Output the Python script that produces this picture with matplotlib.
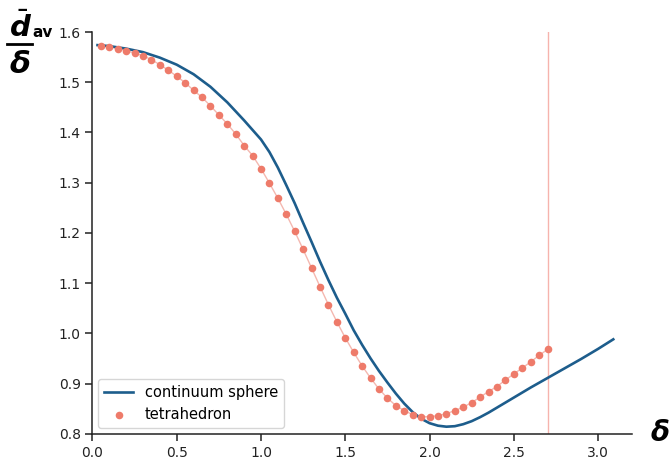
import matplotlib
matplotlib.use("Agg")
from matplotlib import pyplot as plt
from matplotlib.lines import Line2D

# continuum sphere: mean distance over delta
sphere_delta = [0.03, 0.1, 0.2, 0.3, 0.4, 0.5, 0.6, 0.7, 0.8, 0.9, 0.95,
                1.0, 1.05, 1.1, 1.15, 1.2, 1.25, 1.3, 1.35, 1.4, 1.45,
                1.5, 1.55, 1.6, 1.65, 1.7, 1.75, 1.8, 1.85, 1.9, 1.95,
                2.0, 2.05, 2.1, 2.15, 2.2, 2.25, 2.3, 2.35, 2.4, 2.5,
                2.6, 2.7, 2.8, 2.9, 3.0, 3.09]
sphere_ratio = [1.574, 1.572, 1.567, 1.560, 1.549, 1.535, 1.516, 1.491,
                1.460, 1.424, 1.405, 1.386, 1.361, 1.330, 1.295, 1.259,
                1.220, 1.182, 1.143, 1.106, 1.071, 1.039, 1.006, 0.977,
                0.950, 0.925, 0.902, 0.880, 0.860, 0.843, 0.830, 0.821,
                0.816, 0.814, 0.815, 0.819, 0.825, 0.833, 0.842, 0.852,
                0.872, 0.892, 0.911, 0.930, 0.949, 0.969, 0.988]

# tetrahedron samples, delta = 0.05 ... 2.70
tetra_delta = [round(0.05 * k, 2) for k in range(1, 55)]
tetra_ratio = [1.573, 1.571, 1.567, 1.563, 1.558, 1.553, 1.545, 1.535,
               1.524, 1.512, 1.499, 1.484, 1.470, 1.453, 1.435, 1.417,
               1.397, 1.374, 1.354, 1.328, 1.299, 1.269, 1.237, 1.203,
               1.167, 1.130, 1.093, 1.057, 1.023, 0.991, 0.962, 0.935,
               0.911, 0.889, 0.871, 0.856, 0.846, 0.838, 0.834, 0.834,
               0.836, 0.840, 0.846, 0.853, 0.862, 0.873, 0.884, 0.894,
               0.907, 0.919, 0.931, 0.943, 0.956, 0.968]

cutoff = 2.7

fig = plt.figure(figsize=(6.7, 4.58), dpi=100)
ax = fig.add_axes([0.138, 0.053, 0.805, 0.877])

ax.plot(sphere_delta, sphere_ratio, color="#1d5d8c", lw=1.9,
        label="continuum sphere", zorder=3)
ax.plot(tetra_delta, tetra_ratio, color="#f4b8b0", lw=1.0, zorder=2)
ax.scatter(tetra_delta, tetra_ratio, s=30, color="#ee7b6a", lw=0,
           label="tetrahedron", zorder=4)
ax.axvline(cutoff, color="#f6b3ad", lw=1.0, zorder=1)

ax.set_xlim(0, 3.2)
ax.set_ylim(0.8, 1.6)
ax.set_xticks([0.0, 0.5, 1.0, 1.5, 2.0, 2.5, 3.0])
ax.set_yticks([0.8, 0.9, 1.0, 1.1, 1.2, 1.3, 1.4, 1.5, 1.6])
ax.tick_params(labelsize=10, length=5, width=1.1, colors="#222222")
for side in ("top", "right"):
    ax.spines[side].set_visible(False)
for side in ("left", "bottom"):
    ax.spines[side].set_linewidth(1.1)
    ax.spines[side].set_color("#222222")

ax.legend(loc="lower left", fontsize=10.5, frameon=True, framealpha=0.8,
          edgecolor="#cccccc", borderaxespad=0.4)

# y label built by hand: d-bar with "av" beside it, a rule, delta below
fig.text(0.0134, 0.919, r"$\bar{\mathbfit{d}}$", fontsize=21,
         va="baseline", ha="left")
fig.text(0.048, 0.919, "av", fontsize=11, fontweight="bold",
         va="baseline", ha="left")
fig.add_artist(Line2D([0.0104, 0.048], [0.904, 0.904], lw=2.0,
                      color="black", transform=fig.transFigure))
fig.text(0.0134, 0.841, r"$\mathbfit{\delta}$", fontsize=22,
         va="baseline", ha="left")
fig.text(0.97, 0.025, r"$\mathbfit{\delta}$", fontsize=20,
         va="bottom", ha="left")

fig.savefig("out.png", dpi=100)
